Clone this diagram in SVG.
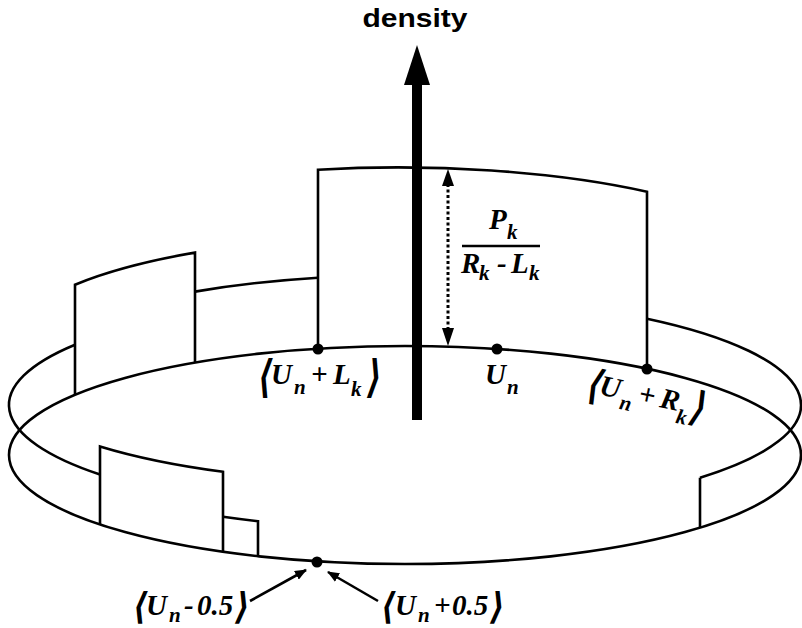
<svg xmlns="http://www.w3.org/2000/svg" width="802" height="628" viewBox="0 0 802 628">
<defs>
<style>
.ln{fill:none;stroke:#000;stroke-width:2.6;stroke-linejoin:miter;stroke-linecap:butt}
.m{font-family:"Liberation Serif","Times New Roman",serif;font-weight:bold;font-style:italic;font-size:29px;fill:#000}
.s{font-size:21px}
.br{font-family:"DejaVu Sans",sans-serif;font-weight:bold;font-style:italic;font-size:32px;fill:#000}
.dot{fill:#000}
</style>
<marker id="ah" viewBox="0 0 12 10" refX="11" refY="5" markerWidth="12" markerHeight="10" markerUnits="userSpaceOnUse" orient="auto">
<path d="M0,0 L12,5 L0,10 Z" fill="#000"/>
</marker>
</defs>
<rect width="802" height="628" fill="#fff"/>

<g id="ring">
<ellipse class="ln" cx="405" cy="455" rx="396" ry="109"/>
<path class="ln" d="M75 344.7 A396 109 0 0 0 100 474.5"/>
<path class="ln" d="M647 318.7 A396 109 0 0 1 700 477.7"/>
</g>

<g id="bins">
<path class="ln" d="M75 394.7 V284.7 A396 109 0 0 1 195 252.6 V362.6"/>
<path class="ln" d="M195 291.6 A396 109 0 0 1 318 277.7"/>
<path class="ln" d="M318 348.7 V169.7 A396 109 0 0 1 647 191.7 V368.7"/>
<path class="ln" d="M100 524.5 V446.5 A396 109 0 0 0 223 471.8 V551.8"/>
<path class="ln" d="M223 516.8 A396 109 0 0 0 258 521.2 V556.2"/>
<path class="ln" d="M700 477.7 V527.7"/>
</g>

<g id="density-axis">
<rect x="412" y="82" width="10" height="338" fill="#000"/>
<polygon points="417,45 404,85 430,85" fill="#000"/>
<text x="415" y="27" text-anchor="middle" font-family="Liberation Sans, Arial, sans-serif" font-weight="bold" font-size="25" textLength="105" lengthAdjust="spacingAndGlyphs">density</text>
</g>

<g id="height-marker">
<line x1="448" y1="184" x2="448" y2="330" stroke="#000" stroke-width="3" stroke-dasharray="3 2.5"/>
<polygon points="448,169 442,186 454,186" fill="#000"/>
<polygon points="448,346 442,328 454,328" fill="#000"/>
<text class="m"><tspan x="489" y="229">P</tspan><tspan class="s" x="507" y="239">k</tspan></text>
<line x1="462" y1="246" x2="540" y2="246" stroke="#000" stroke-width="2.6"/>
<text class="m"><tspan x="461" y="273">R</tspan><tspan class="s" x="479" y="280">k</tspan><tspan x="497" y="273">-</tspan><tspan x="511" y="273">L</tspan><tspan class="s" x="529" y="280">k</tspan></text>
</g>

<g id="points">
<circle class="dot" cx="318" cy="349" r="5.5"/>
<circle class="dot" cx="497" cy="349" r="5.5"/>
<circle class="dot" cx="647" cy="369" r="5.5"/>
<circle class="dot" cx="317" cy="562" r="5.5"/>
</g>

<g id="label-lk">
<text class="br" transform="translate(258,392) scale(1,1.4)">⟨</text>
<text class="m"><tspan x="271" y="384">U</tspan><tspan class="s" x="294" y="394">n</tspan><tspan x="311" y="384">+</tspan><tspan x="333" y="384">L</tspan><tspan class="s" x="351" y="396">k</tspan></text>
<text class="br" transform="translate(367,392) scale(1,1.4)">⟩</text>
</g>

<g id="label-un">
<text class="m"><tspan x="485" y="384">U</tspan><tspan class="s" x="507" y="394">n</tspan></text>
</g>

<g id="label-rk" transform="translate(645,400) rotate(12)">
<text class="br" transform="translate(-59,10) scale(1,1.3)">⟨</text>
<text class="m"><tspan x="-47" y="4">U</tspan><tspan class="s" x="-24" y="14">n</tspan><tspan x="-7" y="4">+</tspan><tspan x="15" y="4">R</tspan><tspan class="s" x="34" y="16">k</tspan></text>
<text class="br" transform="translate(47,10) scale(1,1.3)">⟩</text>
</g>

<g id="label-minus">
<text class="br" transform="translate(133,619) scale(1,1.15)">⟨</text>
<text class="m"><tspan x="146" y="615">U</tspan><tspan class="s" x="169" y="622">n</tspan><tspan x="184" y="615">-</tspan><tspan x="197" y="615">0.5</tspan></text>
<text class="br" transform="translate(235,619) scale(1,1.15)">⟩</text>
</g>

<g id="label-plus">
<text class="br" transform="translate(381,619) scale(1,1.15)">⟨</text>
<text class="m"><tspan x="395" y="615">U</tspan><tspan class="s" x="418" y="622">n</tspan><tspan x="434" y="615">+</tspan><tspan x="452" y="615">0.5</tspan></text>
<text class="br" transform="translate(490,619) scale(1,1.15)">⟩</text>
</g>

<g id="connectors">
<line x1="250" y1="601" x2="306" y2="570" stroke="#000" stroke-width="2.6" marker-end="url(#ah)"/>
<line x1="378" y1="601" x2="328" y2="572" stroke="#000" stroke-width="2.6" marker-end="url(#ah)"/>
</g>
</svg>
